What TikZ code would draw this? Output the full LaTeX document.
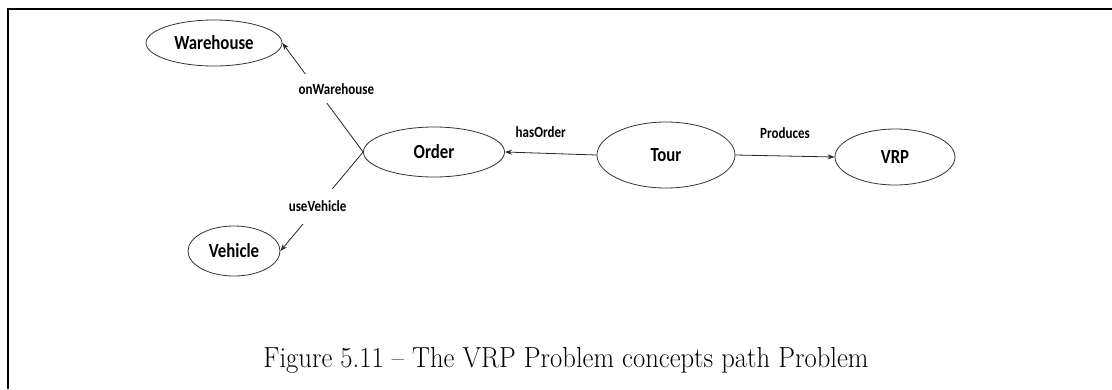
\documentclass[tikz,border=0pt]{standalone}
\usepackage{fontspec}
\setmainfont{Latin Modern Roman}
\newfontfamily\capfont[FakeStretch=0.92,Ligatures=TeX]{Latin Modern Roman}
\newfontfamily\lblfont[FakeStretch=0.84]{Carlito}
\usetikzlibrary{arrows.meta,shapes.geometric}
\tikzset{
  concept/.style={ellipse, draw=black!80, line width=0.8pt, inner sep=0pt,
    font=\lblfont\bfseries\fontsize{20}{20}\selectfont},
  rel/.style={font=\lblfont\bfseries\fontsize{15.5}{16}\selectfont, inner sep=1pt},
  cut/.style={rel, fill=white, inner xsep=2pt},
  conn/.style={draw=black!85, line width=0.8pt, -{Stealth[length=7pt,width=5pt]}},
  frame/.style={line width=1.8pt}
}
\begin{document}
\begin{tikzpicture}[x=1pt,y=-1pt]
\useasboundingbox (0,0) rectangle (1112,389);
\draw[frame] (8,389) -- (8,9) coordinate (fc) -- (1112,9);
% concepts
\node[concept, minimum width=136pt, minimum height=46pt] (W) at (214,43) {Warehouse};
\node[concept, minimum width=141pt, minimum height=50pt] (O) at (434,152) {Order};
\node[concept, minimum width=138pt, minimum height=66pt] (T) at (666,155) {Tour};
\node[concept, minimum width=120pt, minimum height=56pt] (V) at (895,157) {VRP};
\node[concept, minimum width=92pt, minimum height=50pt] (Vh) at (234,251) {Vehicle};
% relations
\draw[conn] (O.west) -- node[cut, pos=0.58, xshift=20pt, inner ysep=9pt] (lw) {onWarehouse} (W.east);
\draw[conn] (O.west) -- node[cut, pos=0.55, inner ysep=12pt] (lv) {useVehicle} (Vh.east);
\draw[conn] (T.west) -- node[rel, pos=0.61, above=14pt] (lh) {hasOrder} (O.east);
\draw[conn] (T.east) -- node[rel, pos=0.5, above=16pt] (lp) {Produces} (V.west);
% caption
\node[font=\capfont\fontsize{29}{29}\selectfont, anchor=base] (cap) at (566,367)
  {Figure 5.11 – The VRP Problem concepts path Problem};
\end{tikzpicture}
\end{document}
